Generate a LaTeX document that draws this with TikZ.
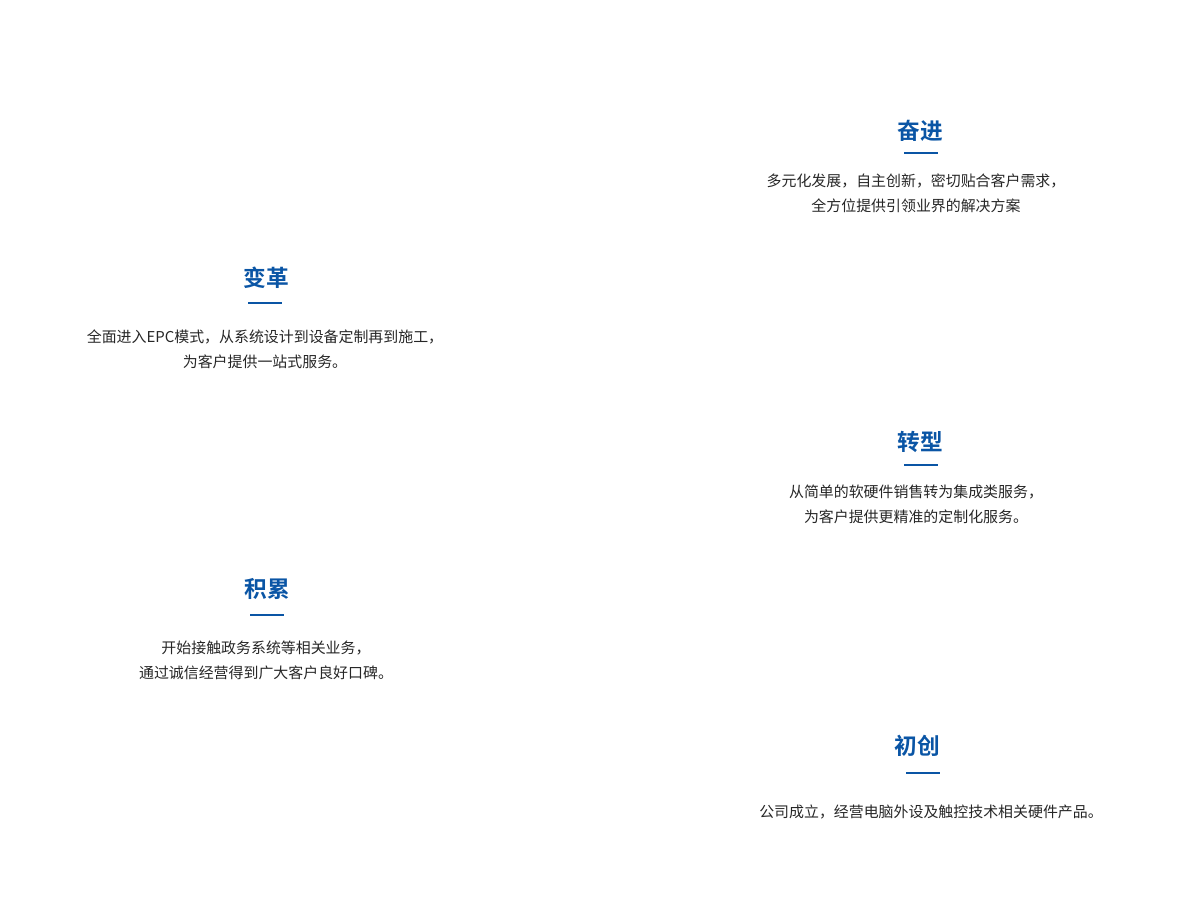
\documentclass[tikz,border=0pt]{standalone}
\usepackage{fontspec}
\newfontfamily\cjk{Noto Sans CJK SC}
\newfontfamily\cjkbold{Noto Sans CJK SC Bold}
\definecolor{stageblue}{HTML}{0A55A5}
\tikzset{
  stagetitle/.style={text=stageblue, font=\cjkbold\fontsize{17}{20}\selectfont, inner sep=0pt},
  stagetext/.style={text=black!85, font=\cjk\fontsize{11.2}{18.8}\selectfont, align=center, inner sep=0pt},
  stagebar/.style={draw=stageblue, line width=2.2pt}
}
\begin{document}
\begin{tikzpicture}[x=0.75pt,y=-0.75pt]
\useasboundingbox (0,0) rectangle (1200,920);
% upper right
\node [stagetitle] (fenjin) at (920,131) {奋进};
\draw [stagebar] (904,153) -- (938,153);
\node [stagetext] (fenjintext) at (916,193.5)
  {多元化发展，自主创新，密切贴合客户需求，\\全方位提供引领业界的解决方案};
% upper left
\node [stagetitle] (biange) at (266,278) {变革};
\draw [stagebar] (248,303) -- (282,303);
\node [stagetext] (biangetext) at (265,349)
  {全面进入EPC模式，从系统设计到设备定制再到施工，\\为客户提供一站式服务。};
% middle right
\node [stagetitle] (zhuanxing) at (920,442) {转型};
\draw [stagebar] (904,465) -- (938,465);
\node [stagetext] (zhuanxingtext) at (916,504.5)
  {从简单的软硬件销售转为集成类服务，\\为客户提供更精准的定制化服务。};
% middle left
\node [stagetitle] (jilei) at (267,589) {积累};
\draw [stagebar] (250,615) -- (284,615);
\node [stagetext] (jileitext) at (266,660)
  {开始接触政务系统等相关业务，\\通过诚信经营得到广大客户良好口碑。};
% lower right
\node [stagetitle] (chuchuang) at (917,746) {初创};
\draw [stagebar] (906,773) -- (940,773);
\node [stagetext] (chuchuangtext) at (931,812)
  {公司成立，经营电脑外设及触控技术相关硬件产品。};
\end{tikzpicture}
\end{document}
